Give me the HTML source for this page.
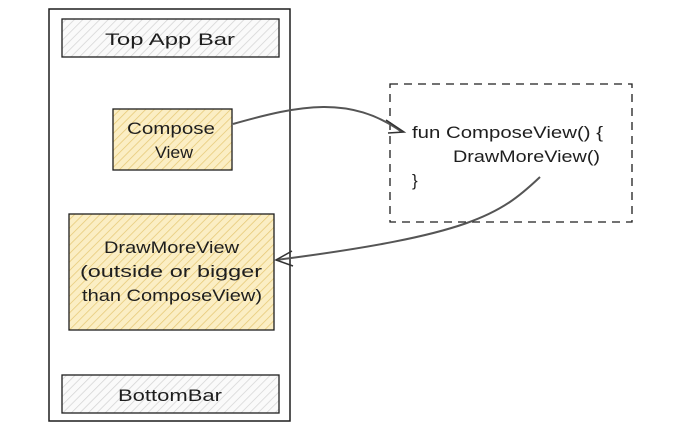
<!DOCTYPE html>
<html><head><style>
html,body{margin:0;padding:0;background:#fff;}
svg text{font-family:"Liberation Sans",sans-serif;font-size:17px;fill:#1e1e1e;}
</style></head><body>
<svg width="680" height="431" viewBox="0 0 680 431" xmlns="http://www.w3.org/2000/svg">
<defs>
<pattern id="hg" width="6" height="6" patternUnits="userSpaceOnUse" patternTransform="rotate(45)">
<rect width="6" height="6" fill="#fafafa"/><line x1="0" y1="0" x2="0" y2="6" stroke="#d4d4d4" stroke-width="1.5"/></pattern>
<pattern id="hy" width="6" height="6" patternUnits="userSpaceOnUse" patternTransform="rotate(45)">
<rect width="6" height="6" fill="#fbeec4"/><line x1="0" y1="0" x2="0" y2="6" stroke="#e6c875" stroke-width="1.5"/></pattern>
</defs>
<rect x="49" y="9" width="241" height="412" fill="#fff" stroke="#1e1e1e" stroke-width="1.5"/>
<rect x="62" y="19" width="217" height="38" fill="url(#hg)" stroke="#1e1e1e" stroke-width="1.3"/>
<text x="105" y="45" textLength="130" lengthAdjust="spacingAndGlyphs">Top App Bar</text>
<rect x="113" y="109" width="119" height="61" fill="url(#hy)" stroke="#1e1e1e" stroke-width="1.3"/>
<text x="127" y="134" textLength="88" lengthAdjust="spacingAndGlyphs">Compose</text>
<text x="155" y="158" textLength="38" lengthAdjust="spacingAndGlyphs">View</text>
<rect x="69" y="214" width="205" height="116" fill="url(#hy)" stroke="#1e1e1e" stroke-width="1.3"/>
<text x="104" y="253" textLength="135" lengthAdjust="spacingAndGlyphs">DrawMoreView</text>
<text x="80" y="277" textLength="182" lengthAdjust="spacingAndGlyphs">(outside or bigger</text>
<text x="82" y="301" textLength="180" lengthAdjust="spacingAndGlyphs">than ComposeView)</text>
<rect x="62" y="375" width="217" height="38" fill="url(#hg)" stroke="#1e1e1e" stroke-width="1.3"/>
<text x="118" y="401" textLength="104" lengthAdjust="spacingAndGlyphs">BottomBar</text>
<rect x="390" y="84" width="242" height="138" fill="none" stroke="#1e1e1e" stroke-width="1.3" stroke-dasharray="8 6"/>
<text x="412" y="138" textLength="191" lengthAdjust="spacingAndGlyphs">fun ComposeView() {</text>
<text x="453" y="162" textLength="147" lengthAdjust="spacingAndGlyphs">DrawMoreView()</text>
<text x="412" y="186">}</text>
<path d="M233 124 C300 105 350 95 402 132" fill="none" stroke="#555" stroke-width="2"/>
<path d="M386 120 L404 132 L388 133" fill="none" stroke="#333" stroke-width="1.5"/>
<path d="M540 177 C500 215 470 235 276 260" fill="none" stroke="#555" stroke-width="2"/>
<path d="M292 251 L276 260 L293 266" fill="none" stroke="#333" stroke-width="1.5"/>
</svg>
</body></html>
